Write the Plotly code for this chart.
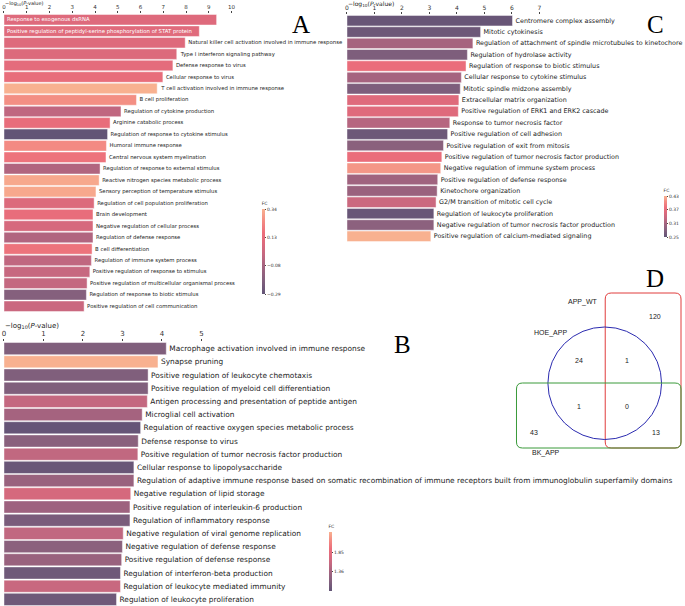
import plotly.graph_objects as go

W, H = 685, 606

# ---------------- data ----------------
A_terms = [
    "Response to exogenous dsRNA",
    "Positive regulation of peptidyl-serine phosphorylation of STAT protein",
    "Natural killer cell activation involved in immune response",
    "Type I interferon signaling pathway",
    "Defense response to virus",
    "Cellular response to virus",
    "T cell activation involved in immune response",
    "B cell proliferation",
    "Regulation of cytokine production",
    "Arginine catabolic process",
    "Regulation of response to cytokine stimulus",
    "Humoral immune response",
    "Central nervous system myelination",
    "Regulation of response to external stimulus",
    "Reactive nitrogen species metabolic process",
    "Sensory perception of temperature stimulus",
    "Regulation of cell population proliferation",
    "Brain development",
    "Negative regulation of cellular process",
    "Regulation of defense response",
    "B cell differentiation",
    "Regulation of immune system process",
    "Positive regulation of response to stimulus",
    "Positive regulation of multicellular organismal process",
    "Regulation of response to biotic stimulus",
    "Positive regulation of cell communication",
]
A_logp = [9.34, 8.58, 7.96, 7.59, 7.42, 6.98, 6.73, 5.82, 5.14, 4.66, 4.55, 4.50, 4.48,
          4.22, 4.18, 4.04, 3.96, 3.91, 3.91, 3.91, 3.87, 3.84, 3.77, 3.65, 3.62, 3.52]
A_fc = [0.09, 0.10, 0.09, 0.08, 0.12, 0.14, 0.34, 0.26, -0.01, 0.14, -0.29, 0.25, 0.18,
        -0.05, 0.32, 0.32, 0.08, 0.14, 0.06, -0.05, 0.18, -0.01, 0.01, 0.00, -0.18, 0.02]

B_terms = [
    "Macrophage activation involved in immune response",
    "Synapse pruning",
    "Positive regulation of leukocyte chemotaxis",
    "Positive regulation of myeloid cell differentiation",
    "Antigen processing and presentation of peptide antigen",
    "Microglial cell activation",
    "Regulation of reactive oxygen species metabolic process",
    "Defense response to virus",
    "Positive regulation of tumor necrosis factor production",
    "Cellular response to lipopolysaccharide",
    "Regulation of adaptive immune response based on somatic recombination of immune receptors built from immunoglobulin superfamily domains",
    "Negative regulation of lipid storage",
    "Positive regulation of interleukin-6 production",
    "Regulation of inflammatory response",
    "Negative regulation of viral genome replication",
    "Negative regulation of defense response",
    "Positive regulation of defense response",
    "Regulation of interferon-beta production",
    "Regulation of leukocyte mediated immunity",
    "Regulation of leukocyte proliferation",
]
B_logp = [4.11, 3.90, 3.65, 3.65, 3.63, 3.50, 3.46, 3.40, 3.39, 3.29,
          3.29, 3.21, 3.19, 3.19, 3.02, 3.00, 2.98, 2.95, 2.95, 2.85]
B_fc = [1.10, 2.39, 1.10, 1.10, 1.57, 1.37, 0.90, 1.17, 1.55, 0.92,
        1.28, 1.71, 1.32, 1.05, 1.55, 1.18, 1.28, 0.97, 1.60, 0.97]

C_terms = [
    "Centromere complex assembly",
    "Mitotic cytokinesis",
    "Regulation of attachment of spindle microtubules to kinetochore",
    "Regulation of hydrolase activity",
    "Regulation of response to biotic stimulus",
    "Cellular response to cytokine stimulus",
    "Mitotic spindle midzone assembly",
    "Extracellular matrix organization",
    "Positive regulation of ERK1 and ERK2 cascade",
    "Response to tumor necrosis factor",
    "Positive regulation of cell adhesion",
    "Positive regulation of exit from mitosis",
    "Positive regulation of tumor necrosis factor production",
    "Negative regulation of immune system process",
    "Positive regulation of defense response",
    "Kinetochore organization",
    "G2/M transition of mitotic cell cycle",
    "Regulation of leukocyte proliferation",
    "Negative regulation of tumor necrosis factor production",
    "Positive regulation of calcium-mediated signaling",
]
C_logp = [6.02, 4.86, 4.58, 4.38, 4.33, 4.16, 4.12, 4.07, 4.05, 3.74,
          3.66, 3.51, 3.45, 3.41, 3.30, 3.28, 3.24, 3.16, 3.16, 3.05]
C_fc = [0.255, 0.26, 0.31, 0.275, 0.376, 0.31, 0.275, 0.36, 0.36, 0.322,
        0.26, 0.286, 0.376, 0.412, 0.305, 0.30, 0.34, 0.255, 0.288, 0.43]

venn_sets = ["APP_WT", "HOE_APP", "BK_APP"]
venn_counts = [120, 24, 1, 1, 0, 43, 13]

# ---------------- helpers ----------------
def px(x):
    return x / W


def py(y):
    return 1 - y / H


CS = [
    [0.0, '#625476'],
    [0.17, '#84607d'],
    [0.33, '#a5637f'],
    [0.46, '#c46880'],
    [0.6, '#de6a7c'],
    [0.72, '#ec6e7b'],
    [0.86, '#f38b83'],
    [1.0, '#f8b190'],
]

FONT = "DejaVu Sans"
fig = go.Figure()


def add_panel(terms, vals, fc, ax, cmin, cmax, tv, tt, cbx, cby, cblen, fs, inside_n=0):
    n = len(terms)
    textpos = ['inside'] * inside_n + ['outside'] * (n - inside_n)
    fig.add_trace(go.Bar(
        x=vals, y=terms, orientation='h', text=terms, textposition=textpos,
        insidetextanchor='start',
        insidetextfont=dict(color='white', size=fs, family=FONT),
        outsidetextfont=dict(color='#222222', size=fs, family=FONT),
        cliponaxis=False, constraintext='none', hoverinfo='skip',
        marker=dict(
            color=fc, colorscale=CS, cmin=cmin, cmax=cmax,
            line=dict(color='rgba(255,255,255,0.75)', width=0.6),
            colorbar=dict(
                x=cbx, xanchor='left', y=cby, yanchor='middle',
                len=cblen, lenmode='pixels', thickness=3, thicknessmode='pixels',
                xpad=0, ypad=0, outlinewidth=0,
                tickvals=tv, ticktext=tt, ticks='outside', ticklen=1.5, tickwidth=0.5,
                tickcolor='#444', tickfont=dict(size=4.5, family=FONT, color='#333'),
                title=dict(text='FC', side='top', font=dict(size=4.5, family=FONT, color='#333')),
            ),
        ),
        xaxis='x' + ax, yaxis='y' + ax,
    ))


add_panel(A_terms, A_logp, A_fc, '', -0.29, 0.34,
          [0.34, 0.13, -0.08, -0.29], ['0.34', '0.13', '\u22120.08', '\u22120.29'],
          px(260.5), py(246.5), 95, 5.35, inside_n=2)
add_panel(B_terms, B_logp, B_fc, '2', 0.87, 2.39,
          [1.85, 1.36], ['1.85', '1.36'],
          px(327.5), py(556), 69, 7.4)
add_panel(C_terms, C_logp, C_fc, '3', 0.25, 0.43,
          [0.43, 0.37, 0.31, 0.25], ['0.43', '0.37', '0.31', '0.25'],
          px(663.5), py(211.5), 51, 6.4)


def xax(dom, rng, tick_n, fs):
    return dict(domain=dom, range=rng, side='top', showgrid=False, zeroline=False,
                showline=False, ticks='outside', ticklen=2, tickwidth=0.5, tickcolor='#444',
                tickvals=list(range(tick_n + 1)), tickfont=dict(size=fs, family=FONT, color='#333'),
                fixedrange=True)


def yax(dom, anchor):
    return dict(domain=dom, autorange='reversed', showticklabels=False, showgrid=False,
                zeroline=False, showline=False, ticks='', type='category', anchor=anchor,
                fixedrange=True)


fig.update_layout(
    width=W, height=H, margin=dict(l=0, r=0, t=0, b=0),
    paper_bgcolor='white', plot_bgcolor='rgba(0,0,0,0)',
    showlegend=False, bargap=0.08,
    xaxis=dict(**xax([px(2), px(250)], [0, 248 / 22.83], 10, 5.5), anchor='y'),
    yaxis=yax([py(312), py(14)], 'x'),
    xaxis2=dict(**xax([px(2), px(240)], [0, 238 / 39.6], 5, 7), anchor='y2'),
    yaxis2=yax([0, py(342)], 'x2'),
    xaxis3=dict(**xax([px(346), px(553)], [0, 207 / 27.57], 7, 6), anchor='y3'),
    yaxis3=yax([py(242), py(15)], 'x3'),
)

ann = []
title_txt = "\u2212log<sub>10</sub>(<i>P</i>-value)"
for (x, y, fs) in [(1, 3, 5), (1, 326, 7), (345, 3.8, 6)]:
    ann.append(dict(x=px(x), y=py(y), xref='paper', yref='paper', text=title_txt,
                    showarrow=False, xanchor='left', yanchor='middle',
                    font=dict(size=fs, family=FONT, color='#222')))

for (letter, x, y) in [("A", 300, 24), ("B", 402, 345), ("C", 655, 24), ("D", 655, 278)]:
    ann.append(dict(x=px(x), y=py(y), xref='paper', yref='paper', text=letter,
                    showarrow=False, xanchor='center', yanchor='middle',
                    font=dict(size=25, family="Liberation Serif", color='#000')))

# Venn labels
set_pos = [(583, 302), (550, 333), (546, 453)]
for name, (x, y) in zip(venn_sets, set_pos):
    ann.append(dict(x=px(x), y=py(y), xref='paper', yref='paper', text=name,
                    showarrow=False, xanchor='center', yanchor='middle',
                    font=dict(size=7, family="Liberation Sans", color='#222')))
count_pos = [(655, 317), (579, 360), (627, 360), (579, 406.5), (627, 406.5), (534, 432.5), (656, 432.5)]
for c, (x, y) in zip(venn_counts, count_pos):
    ann.append(dict(x=px(x), y=py(y), xref='paper', yref='paper', text=str(c),
                    showarrow=False, xanchor='center', yanchor='middle',
                    font=dict(size=7, family="Liberation Sans", color='#222')))


def rrect(x0, y0, x1, y1, r):
    X0, X1 = px(x0), px(x1)
    Y0, Y1 = py(y0), py(y1)
    rx, ry = r / W, r / H
    return (f"M {X0+rx},{Y0} L {X1-rx},{Y0} Q {X1},{Y0} {X1},{Y0-ry} "
            f"L {X1},{Y1+ry} Q {X1},{Y1} {X1-rx},{Y1} L {X0+rx},{Y1} "
            f"Q {X0},{Y1} {X0},{Y1+ry} L {X0},{Y0-ry} Q {X0},{Y0} {X0+rx},{Y0} Z")


shapes = [
    dict(type='path', path=rrect(605, 293, 681, 448, 6), xref='paper', yref='paper',
         line=dict(color='#e03c3c', width=1)),
    dict(type='circle', x0=px(547.5), x1=px(661.5), y0=py(327), y1=py(439.5),
         xref='paper', yref='paper', line=dict(color='#2b2bb0', width=1)),
    dict(type='path', path=rrect(516, 383, 681, 448, 6), xref='paper', yref='paper',
         line=dict(color='#3a9a3a', width=1)),
]

fig.update_layout(annotations=ann, shapes=shapes)
fig.write_html(
    "out.html",
    config={"displayModeBar": False},
    post_script="document.body.style.margin='0px';document.body.style.overflow='hidden';",
)
